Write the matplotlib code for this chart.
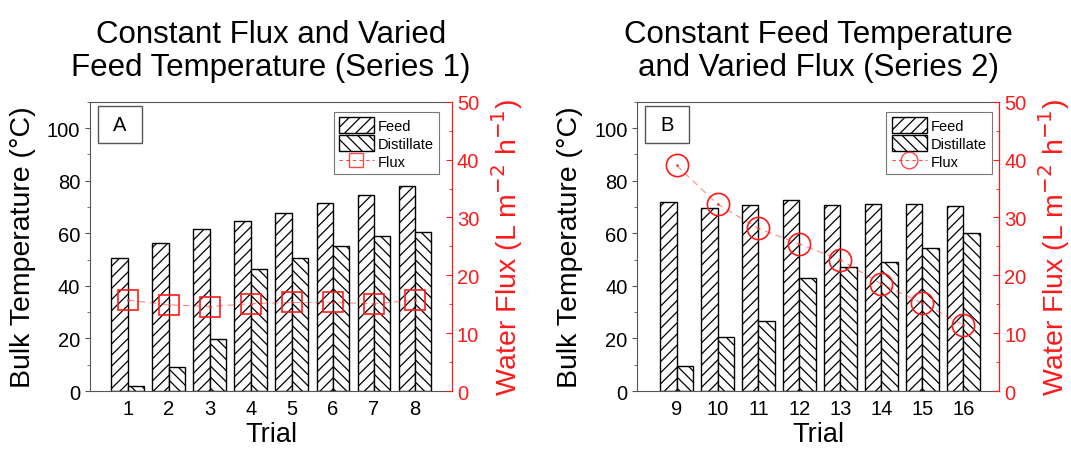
import matplotlib.pyplot as plt
import matplotlib.patches as mpatches
from matplotlib.lines import Line2D
from matplotlib.ticker import MultipleLocator

plt.rcParams['font.family'] = ['Liberation Sans', 'DejaVu Sans']
plt.rcParams['hatch.linewidth'] = 0.9

# Series 1: constant flux, varied feed temperature
trials_a = [1, 2, 3, 4, 5, 6, 7, 8]
feed_a = [50.6, 56.3, 61.6, 64.8, 67.8, 71.5, 74.6, 78.0]
dist_a = [2.0, 9.2, 19.9, 46.5, 50.5, 55.2, 59.1, 60.3]
flux_a = [15.7, 14.9, 14.6, 15.1, 15.3, 15.3, 15.1, 15.7]

# Series 2: constant feed temperature, varied flux
trials_b = [9, 10, 11, 12, 13, 14, 15, 16]
feed_b = [71.9, 69.5, 70.9, 72.7, 70.6, 71.1, 71.1, 70.5]
dist_b = [9.7, 20.4, 26.5, 42.9, 47.2, 49.0, 54.4, 60.1]
flux_b = [39.0, 32.3, 28.1, 25.4, 22.7, 18.5, 15.2, 11.45]

titles = ['Constant Flux and Varied\nFeed Temperature (Series 1)',
          'Constant Feed Temperature\nand Varied Flux (Series 2)']
RED = '#ff1a1a'
GRAY = '#555555'
W = 0.4
LBL = 20.5
TICK = 14.5


def panel(ax, trials, feed, dist, flux, letter, marker, ms, xlim, title, leg_x):
    xs = [t - W / 2 for t in trials]
    xd = [t + W / 2 for t in trials]
    ax.bar(xs, feed, W, color='white', edgecolor='black', hatch='///', lw=1.0, zorder=2)
    ax.bar(xd, dist, W, color='white', edgecolor='black', hatch='\\\\\\', lw=1.0, zorder=2)
    ax.set_xlim(*xlim)
    ax.set_ylim(0, 110)
    ax.set_xticks(trials)
    ax.yaxis.set_major_locator(MultipleLocator(20))
    ax.yaxis.set_minor_locator(MultipleLocator(10))
    ax.tick_params(axis='x', length=0, labelsize=TICK, pad=6)
    ax.tick_params(axis='y', which='major', direction='out', length=3.5, labelsize=TICK, color=GRAY)
    ax.tick_params(axis='y', which='minor', direction='out', length=2, color=GRAY)
    for s in ('left', 'top', 'bottom'):
        ax.spines[s].set_color(GRAY)
    ax.set_xlabel('Trial', fontsize=19.5, labelpad=2)
    ax.set_ylabel('Bulk Temperature (°C)', fontsize=LBL, labelpad=8)
    ax.set_title(title, fontsize=22.5, pad=19, linespacing=1.15)

    ax2 = ax.twinx()
    ax2.plot(trials, flux, ls=(0, (6, 4)), lw=0.8, color=RED, alpha=0.5, zorder=3)
    ax2.plot(trials, flux, ls='none', marker=marker, ms=ms, mfc='none', mec=RED, mew=1.2, zorder=4)
    ax2.plot(trials, flux, ls='none', marker='.', ms=1.5, color=RED, zorder=4)
    ax2.set_ylim(0, 50)
    ax2.yaxis.set_major_locator(MultipleLocator(10))
    ax2.yaxis.set_minor_locator(MultipleLocator(5))
    ax2.tick_params(axis='y', which='major', direction='in', length=4, colors=RED, labelsize=TICK)
    ax2.tick_params(axis='y', which='minor', direction='in', length=2.5, colors=RED)
    ax2.spines['right'].set_color(RED)
    for s in ('left', 'top', 'bottom'):
        ax2.spines[s].set_visible(False)
    ax2.set_ylabel('Water Flux (L m$^{-2}$ h$^{-1}$)', color=RED, fontsize=LBL, labelpad=7)

    # panel letter box
    ax2.add_patch(mpatches.Rectangle((0.022, 0.858), 0.122, 0.128, transform=ax.transAxes,
                                     fill=True, facecolor='white', edgecolor=GRAY, lw=1.0, zorder=5))
    ax2.text(0.083, 0.922, letter, transform=ax.transAxes, ha='center', va='center',
             fontsize=14.5, zorder=6)

    handles = [mpatches.Patch(facecolor='white', edgecolor='black', hatch='///', label='Feed'),
               mpatches.Patch(facecolor='white', edgecolor='black', hatch='\\\\\\', label='Distillate'),
               Line2D([], [], ls=(0, (3, 3)), lw=0.8, color=RED, alpha=0.8, marker=marker,
                      ms=ms * 0.75, mfc='none', mec=RED, mew=1.0, label='Flux')]
    leg = ax2.legend(handles=handles, loc='upper right', bbox_to_anchor=(leg_x, 0.965),
                     fontsize=10.5, frameon=True, fancybox=False, edgecolor=GRAY,
                     handlelength=2.4, handleheight=1.3, handletextpad=0.3,
                     labelspacing=0.15, borderpad=0.35, borderaxespad=0)
    leg.get_frame().set_linewidth(0.8)
    leg.set_zorder(7)
    return ax2


fig = plt.figure(figsize=(10.71, 4.52), dpi=100)
axA = fig.add_axes([0.084, 0.1327, 0.338, 0.640])
axB = fig.add_axes([0.595, 0.1327, 0.338, 0.640])

panel(axA, trials_a, feed_a, dist_a, flux_a, 'A', 's', 14, (0.08, 8.9), titles[0], 0.965)
panel(axB, trials_b, feed_b, dist_b, flux_b, 'B', 'o', 16, (8.04, 16.88), titles[1], 0.98)

fig.savefig('out.png', dpi=100)
